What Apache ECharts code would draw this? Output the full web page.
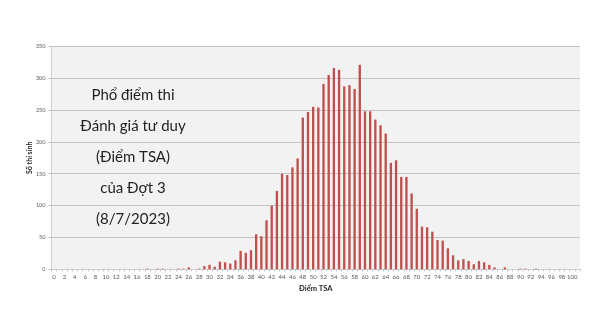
<!DOCTYPE html>
<html>
<head>
<meta charset="utf-8">
<script src="https://cdn.jsdelivr.net/npm/echarts@6/dist/echarts.min.js"></script>
<style>
  html, body { margin: 0; padding: 0; background: #ffffff; }
  #chart { width: 602px; height: 336px; }
</style>
</head>
<body>
<div id="chart"></div>
<script>
// Score categories 0..100, plus one trailing empty slot at the end of the axis
const scores = Array.from({ length: 101 }, (_, i) => String(i)).concat(['']);

// Number of candidates per TSA score (index = score)
const candidates = [
  0, 0, 0, 0, 0, 0, 0, 0, 0, 0,          // 0-9
  0, 0, 0, 0, 0, 0, 0, 0, 1, 0,          // 10-19
  1, 1, 0, 0, 1, 1, 3, 0, 1, 5,          // 20-29
  7, 4, 12, 11, 9, 14, 29, 26, 30, 55,   // 30-39
  52, 77, 100, 123, 150, 148, 160, 174, 238, 247,   // 40-49
  255, 254, 291, 305, 316, 313, 287, 289, 283, 321, // 50-59
  248, 248, 235, 226, 213, 167, 171, 145, 145, 119, // 60-69
  95, 67, 66, 59, 46, 45, 33, 22, 14, 16,           // 70-79
  13, 8, 13, 11, 7, 3, 0, 3, 0, 0,                  // 80-89
  1, 1, 0, 1, 0, 0, 0, 0, 0, 0,                     // 90-99
  0, null                                           // 100, empty slot
];

const yTicks = { min: 0, max: 350, step: 50 };

const titleLines = ['Phổ điểm thi', 'Đánh giá tư duy', '(Điểm TSA)', 'của Đợt 3', '(8/7/2023)'];
const xAxisName = 'Điểm TSA';
const yAxisName = 'Số thí sinh';

const chart = echarts.init(document.getElementById('chart'), null, { renderer: 'canvas' });

chart.setOption({
  animation: false,
  backgroundColor: '#ffffff',
  textStyle: { fontFamily: 'Lato, "Open Sans", sans-serif' },
  grid: {
    left: 51.5, right: 22, top: 46.3, bottom: 66.7,
    show: true, backgroundColor: '#f2f2f2', borderWidth: 0
  },
  xAxis: {
    type: 'category',
    data: scores,
    boundaryGap: true,
    name: xAxisName,
    nameLocation: 'middle',
    nameGap: 15,
    nameMoveOverlap: false,
    nameTextStyle: { fontSize: 7.5, fontWeight: 'bold', color: '#262626', fontFamily: 'Lato' },
    axisLine: { show: true, lineStyle: { color: '#d0d0d0', width: 1 } },
    axisTick: { show: true, interval: 0, length: 2, lineStyle: { color: '#bfbfbf' } },
    axisLabel: { interval: 1, fontSize: 6, color: '#595959', margin: 5, fontFamily: 'Lato' },
    splitLine: { show: false }
  },
  yAxis: {
    type: 'value',
    min: yTicks.min, max: yTicks.max, interval: yTicks.step,
    name: yAxisName,
    nameLocation: 'middle',
    nameGap: 18,
    nameMoveOverlap: false,
    nameRotate: 90,
    nameTextStyle: { fontSize: 7, fontWeight: 'bold', color: '#262626', fontFamily: 'Lato' },
    axisLine: { show: true, lineStyle: { color: '#d0d0d0', width: 1 } },
    axisTick: { show: true, length: 3, lineStyle: { color: '#bfbfbf' } },
    axisLabel: { fontSize: 5.5, color: '#595959', margin: 6, fontFamily: 'Lato' },
    splitLine: { show: true, lineStyle: { color: '#c4c4c4', width: 1 } }
  },
  series: [{
    type: 'bar',
    data: candidates,
    barWidth: '45%',
    itemStyle: { color: '#c0504d' }
  }],
  graphic: [{
    type: 'text',
    x: 133,
    y: 157.5,
    style: {
      text: titleLines.join('\n'),
      fontSize: 15,
      lineHeight: 31,
      fontFamily: 'Lato',
      fill: '#1f1f1f',
      align: 'center',
      verticalAlign: 'middle'
    }
  }]
});
</script>
</body>
</html>
